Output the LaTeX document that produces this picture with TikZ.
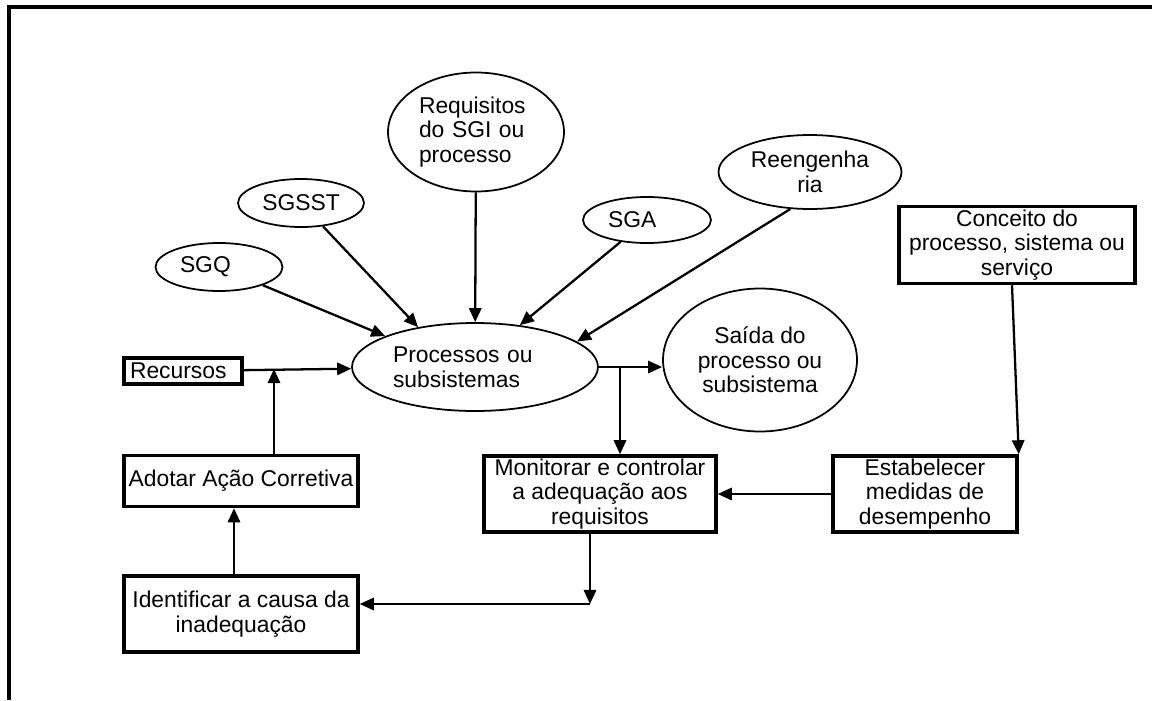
\documentclass[tikz,border=0pt]{standalone}
\usepackage{fontspec}
\setmainfont{Liberation Sans}
\usetikzlibrary{shapes.geometric,arrows.meta}
\tikzset{
  txt/.style={font=\fontsize{13}{14}\selectfont},
  bubble/.style={txt, ellipse, draw=black, line width=1pt, inner sep=0pt, align=center},
  stepbox/.style={txt, rectangle, draw=black, line width=2pt, inner sep=0pt, align=center},
  flow/.style={draw=black, line width=1.3pt, -{Triangle[length=8pt,width=7pt]}},
  frameline/.style={draw=black, line width=2.3pt},
}
\begin{document}
\begin{tikzpicture}[x=0.02cm, y=-0.02cm]
\useasboundingbox (0,0) rectangle (1152,700);
\draw[frameline] (9,700) -- (9,7) -- (1152,7);
\node[bubble, minimum width=2.54cm, minimum height=0.96cm, text width=1.56cm, align=left] (sgq) at (219,267) {SGQ};
\node[bubble, minimum width=2.52cm, minimum height=0.96cm] (sgsst) at (301,203) {SGSST};
\node[bubble, minimum width=3.52cm, minimum height=2.38cm, text width=2.28cm, align=left] (req) at (476,132) {Requisitos\\do SGI ou\\processo};
\node[bubble, minimum width=2.56cm, minimum height=0.92cm, text width=1.56cm, align=left] (sga) at (647,220) {SGA};
\node[bubble, minimum width=3.66cm, minimum height=1.48cm] (reeng) at (810,172) {Reengenha\\ria};
\node[bubble, minimum width=4.92cm, minimum height=1.76cm, text width=3.28cm, align=left] (proc) at (475,367) {Processos ou\\subsistemas};
\node[bubble, minimum width=3.88cm, minimum height=2.86cm] (saida) at (760,360) {Saída do\\processo ou\\subsistema};
\node[stepbox, minimum width=2.36cm, minimum height=0.52cm, text width=2.12cm, inner xsep=0.12cm, align=left] (rec) at (183,371) {Recursos};
\node[stepbox, minimum width=4.68cm, minimum height=1.02cm] (adotar) at (241,481) {Adotar Ação Corretiva};
\node[stepbox, minimum width=4.68cm, minimum height=1.52cm] (ident) at (241,614) {Identificar a causa da\\inadequação};
\node[stepbox, minimum width=4.64cm, minimum height=1.52cm] (monit) at (600,494) {Monitorar e controlar\\a adequação aos\\requisitos};
\node[stepbox, minimum width=3.68cm, minimum height=1.52cm] (estab) at (925,494) {Estabelecer\\medidas de\\desempenho};
\node[stepbox, minimum width=4.72cm, minimum height=1.54cm] (conc) at (1017,245) {Conceito do\\processo, sistema ou\\serviço};
\coordinate (jr) at (274,369);
\coordinate (jp) at (620,367);
\coordinate (jm) at (590,604);
\draw[flow] (sgq) -- (proc.161);
\draw[flow] (sgsst) -- (proc.145);
\draw[flow] (req) -- (proc);
\draw[flow] (sga) -- (proc.43);
\draw[flow] (reeng.242) -- (proc.14);
\draw[flow] (rec) -- (proc);
\draw[flow] (adotar.north -| jr) -- (jr);
\draw[flow] ([xshift=-0.14cm]ident.north) -- ([xshift=-0.14cm]adotar.south);
\draw[flow] (proc.east) -- (proc.east -| saida.west);
\draw[flow] (jp) -- (jp |- monit.north);
\draw[flow] (monit.south -| jm) -- (jm);
\draw[flow] (jm) -- (jm -| ident.east);
\draw[flow] (estab) -- (monit);
\draw[flow] ([xshift=-0.1cm]conc.south) -- (estab.north east);
\end{tikzpicture}
\end{document}
